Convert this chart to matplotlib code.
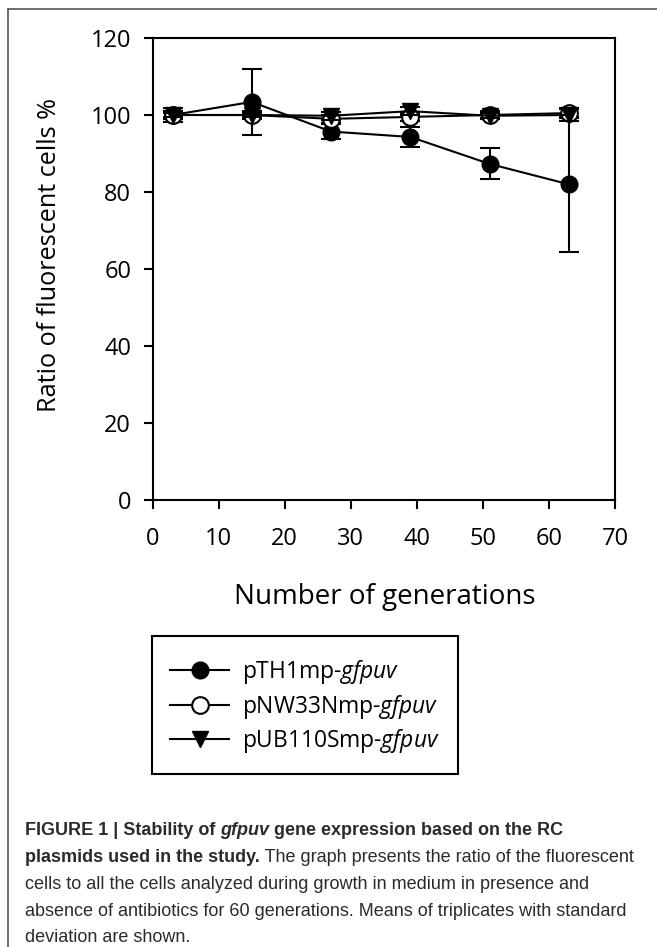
import matplotlib
matplotlib.use("Agg")
import matplotlib.pyplot as plt
from matplotlib.lines import Line2D
from matplotlib.patches import Rectangle
import numpy as np

# ---------------- data ----------------
generations = [3, 15, 27, 39, 51, 63]
pTH1_mean = [100.0, 103.4, 95.7, 94.3, 87.3, 82.0]
pTH1_sd = [1.8, 8.5, 2.0, 2.5, 4.0, 17.5]
pNW_mean = [100.0, 100.0, 99.0, 99.5, 100.0, 100.5]
pNW_sd = [1.0, 1.0, 1.0, 1.0, 1.0, 1.2]
pUB_mean = [100.0, 100.0, 99.8, 101.0, 99.8, 100.0]
pUB_sd = [0.6, 0.6, 1.0, 1.0, 0.6, 1.5]

series_names = ["pTH1mp-", "pNW33Nmp-", "pUB110Smp-"]
x_ticks = [0, 10, 20, 30, 40, 50, 60, 70]
y_ticks = [0, 20, 40, 60, 80, 100, 120]

W, H = 657, 947
DPI = 100
plt.rcParams['mathtext.fontset'] = 'custom'
plt.rcParams['mathtext.rm'] = 'Open Sans'
plt.rcParams['mathtext.it'] = 'Open Sans:italic'
axfont = 'Open Sans'

fig = plt.figure(figsize=(W / DPI, H / DPI), dpi=DPI)

def fx(px):
    return px / W

def fy(py):
    return 1 - py / H

ax = fig.add_axes([fx(152.7), fy(500), fx(615) - fx(152.7), fy(38) - fy(500)])

lw = 1.5
ms = 12
common = dict(color='black', lw=lw, capsize=7.5, capthick=lw, elinewidth=lw, ms=ms)
ax.errorbar(generations, pTH1_mean, yerr=pTH1_sd, marker='o', mfc='black', mec='black', **common, zorder=3)
ax.errorbar(generations, pNW_mean, yerr=pNW_sd, marker='o', mfc='white', mec='black', mew=1.5, **common, zorder=4)
ax.errorbar(generations, pUB_mean, yerr=pUB_sd, marker='v', mfc='black', mec='black', **common, zorder=5)

ax.set_xlim(0, 70)
ax.set_ylim(0, 120)
ax.set_xticks(x_ticks)
ax.set_yticks(y_ticks)
for s in ax.spines.values():
    s.set_linewidth(1.5)
ax.tick_params(axis='both', direction='out', length=6.5, width=1.5, labelsize=17)
ax.tick_params(axis='x', pad=13)
ax.tick_params(axis='y', pad=9)
for lab in ax.get_xticklabels() + ax.get_yticklabels():
    lab.set_fontfamily(axfont)

fig.text(fx(385), fy(597), "Number of generations", ha='center', va='center',
         fontsize=20, family=axfont)
fig.text(fx(50), fy(255), "Ratio of fluorescent cells %", ha='center', va='center',
         rotation=90, fontsize=18.2, family=axfont)

# legend: frame drawn as a rectangle, entries as a frameless legend
handles = [
    Line2D([], [], color='black', lw=lw, marker='o', mfc='black', mec='black', ms=ms),
    Line2D([], [], color='black', lw=lw, marker='o', mfc='white', mec='black', mew=1.5, ms=ms),
    Line2D([], [], color='black', lw=lw, marker='v', mfc='black', mec='black', ms=ms),
]
labels = [n + r"$\it{gfpuv}$" for n in series_names]
leg = fig.legend(handles, labels, loc='upper left', bbox_to_anchor=(fx(170), fy(658)),
                 bbox_transform=fig.transFigure, borderaxespad=0, frameon=False,
                 prop={'family': axfont, 'size': 16.4},
                 handlelength=2.6, handletextpad=0.57, labelspacing=0.29, borderpad=0)
fig.add_artist(Rectangle((fx(152.3), fy(774)), fx(458) - fx(152.3), fy(636) - fy(774),
                         transform=fig.transFigure, fill=False, edgecolor='black', lw=1.5))

# outer frame (top and left)
fig.add_artist(Line2D([fx(8), 1.0], [fy(9), fy(9)], transform=fig.transFigure, color='#555555', lw=1.2))
fig.add_artist(Line2D([fx(8), fx(8)], [fy(9), 0.0], transform=fig.transFigure, color='#555555', lw=1.2))

# caption, drawn piece by piece
capfam = 'Liberation Sans'
capcolor = '#2b2b2b'
caption_lines = [
    [("FIGURE 1 | Stability of ", 'bold', 'normal'), ("gfpuv", 'bold', 'italic'),
     (" gene expression based on the RC", 'bold', 'normal')],
    [("plasmids used in the study.", 'bold', 'normal'),
     (" The graph presents the ratio of the fluorescent", 'normal', 'normal')],
    [("cells to all the cells analyzed during growth in medium in presence and", 'normal', 'normal')],
    [("absence of antibiotics for 60 generations. Means of triplicates with standard", 'normal', 'normal')],
    [("deviation are shown.", 'normal', 'normal')],
]
line_y = [830, 857, 884, 911, 937]
fig.canvas.draw()
renderer = fig.canvas.get_renderer()
# fit caption size so that line 3 spans ~563 px like in the reference
probe = fig.text(0, 0, caption_lines[2][0][0], fontsize=12, family=capfam)
pw = probe.get_window_extent(renderer).width
probe.remove()
capsize = 12 * 563.0 / pw
for pieces, yy in zip(caption_lines, line_y):
    xpix = 25.0
    for txt, wgt, sty in pieces:
        t = fig.text(fx(xpix), fy(yy), txt, ha='left', va='center', fontsize=capsize,
                     family=capfam, weight=wgt, style=sty, color=capcolor)
        bb = t.get_window_extent(renderer)
        xpix += bb.width

fig.savefig("out.png", dpi=DPI)
